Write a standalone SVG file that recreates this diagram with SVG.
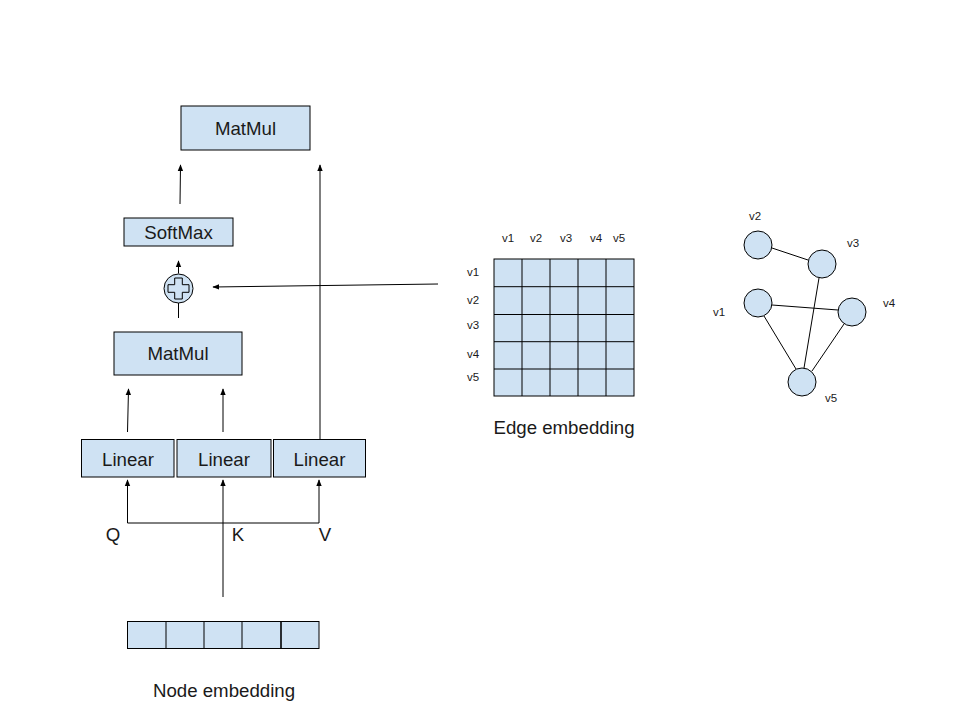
<svg xmlns="http://www.w3.org/2000/svg" width="960" height="720" viewBox="0 0 960 720">
<defs>
<marker id="ah" viewBox="0 0 10 10" refX="9" refY="5" markerWidth="7" markerHeight="7" markerUnits="userSpaceOnUse" orient="auto">
<path d="M0,1 L10,5 L0,9 Z" fill="#000"/>
</marker>
<style>
.box{fill:#cfe2f3;stroke:#000;stroke-width:1}
.t{font-family:"Liberation Sans",Arial,sans-serif;fill:#1a1a1a;text-anchor:middle}
.lbl{font-size:18.67px}
.sm{font-size:11.5px}
.c{stroke:#000;stroke-width:1;fill:none}
.a{stroke:#000;stroke-width:1;fill:none;marker-end:url(#ah)}
</style>
</defs>
<rect width="960" height="720" fill="#fff"/>

<g id="matmul-top"><rect class="box" x="181" y="106" width="129" height="44"/><text class="t lbl" x="245.5" y="135">MatMul</text></g>
<g id="softmax"><rect class="box" x="124" y="218" width="109" height="28"/><text class="t lbl" x="178.5" y="239">SoftMax</text></g>
<g id="add"><circle class="box" cx="178.5" cy="288.5" r="14.5"/><path d="M174.7,278 h7.6 v6.7 h6.7 v7.6 h-6.7 v6.7 h-7.6 v-6.7 h-6.7 v-7.6 h6.7 Z" fill="#cfe2f3" stroke="#000" stroke-width="1" stroke-linejoin="round"/></g>
<g id="matmul-bottom"><rect class="box" x="114" y="332" width="128" height="43"/><text class="t lbl" x="178" y="360">MatMul</text></g>
<g id="linear-q"><rect class="box" x="81.5" y="439.5" width="92.5" height="37.5"/><text class="t lbl" x="128" y="465.5">Linear</text></g>
<g id="linear-k"><rect class="box" x="177" y="439.5" width="94" height="37.5"/><text class="t lbl" x="224" y="465.5">Linear</text></g>
<g id="linear-v"><rect class="box" x="273.5" y="439.5" width="92" height="37.5"/><text class="t lbl" x="319.5" y="465.5">Linear</text></g>

<g id="node-embedding">
<rect class="box" x="127.5" y="621.5" width="191.5" height="27"/>
<path class="c" d="M166,621.5V648.5M204,621.5V648.5M242,621.5V648.5"/>
<path d="M281,621.5V648.5" stroke="#000" stroke-width="1.6"/>
<text class="t lbl" x="224" y="697">Node embedding</text>
</g>

<g id="edge-embedding">
<rect class="box" x="494" y="259" width="140" height="137"/>
<path class="c" d="M522,259V396M550,259V396M578,259V396M606,259V396M494,286.7H634M494,314.5H634M494,341.7H634M494,369H634"/>
<text class="t sm" x="508" y="242">v1</text>
<text class="t sm" x="536" y="242">v2</text>
<text class="t sm" x="566" y="242">v3</text>
<text class="t sm" x="596" y="242">v4</text>
<text class="t sm" x="619" y="242">v5</text>
<text class="t sm" x="473" y="276">v1</text>
<text class="t sm" x="473" y="304">v2</text>
<text class="t sm" x="473" y="329">v3</text>
<text class="t sm" x="473" y="358">v4</text>
<text class="t sm" x="473" y="381">v5</text>
<text class="t lbl" x="564" y="434">Edge embedding</text>
</g>

<g id="graph-edges">
<path class="c" d="M772,248 L808,260 M819,278 L804,368 M772,305 L838,310 M764,316 L796,369 M844,324 L812,371"/>
</g>
<g id="v1"><circle class="box" cx="758" cy="303" r="14"/><text class="t sm" x="719" y="316">v1</text></g>
<g id="v2"><circle class="box" cx="758" cy="245" r="14"/><text class="t sm" x="755" y="220">v2</text></g>
<g id="v3"><circle class="box" cx="822" cy="264" r="14"/><text class="t sm" x="853" y="247">v3</text></g>
<g id="v4"><circle class="box" cx="852" cy="312" r="14"/><text class="t sm" x="889" y="307">v4</text></g>
<g id="v5"><circle class="box" cx="802" cy="382" r="14"/><text class="t sm" x="831" y="402">v5</text></g>

<g id="qkv-labels">
<text class="t lbl" x="113" y="540.5">Q</text>
<text class="t lbl" x="238" y="540.5">K</text>
<text class="t lbl" x="325" y="540.5">V</text>
</g>

<g id="connectors">
<path class="a" d="M180,204 L180.5,165"/>
<path class="a" d="M320,439 L320,165"/>
<path class="a" d="M178.5,273.5 L178.5,261"/>
<path class="c" d="M178.5,303 L178.5,318"/>
<path class="a" d="M438,284 L213,287"/>
<path class="a" d="M127.5,432 L128.5,389"/>
<path class="a" d="M223,432 L223,389"/>
<path class="c" d="M127.5,523 H319"/>
<path class="a" d="M127.5,523 L127.5,480"/>
<path class="a" d="M319,523 L319,480"/>
<path class="a" d="M223,597 L223,480"/>
</g>
</svg>
